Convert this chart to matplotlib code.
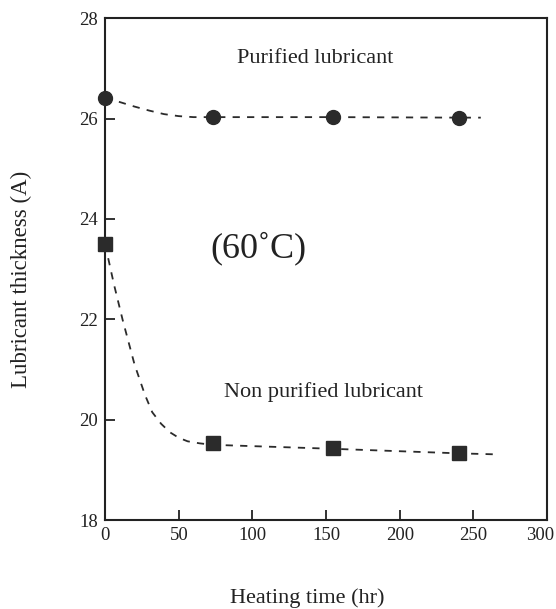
import matplotlib.pyplot as plt
import matplotlib.transforms as mtransforms

plt.rcParams['font.family'] = ['Liberation Serif', 'DejaVu Serif']

# measured points
time_pts = [0, 73, 155, 240]
purified = [26.42, 26.03, 26.03, 26.02]
non_purified = [23.5, 19.53, 19.43, 19.33]

# dashed guide curves
pur_curve_x = [0, 10, 20, 30, 40, 50, 60, 73, 155, 240, 255]
pur_curve_y = [26.42, 26.33, 26.24, 26.16, 26.09, 26.05, 26.03, 26.03, 26.03, 26.02, 26.02]
non_curve_x = [0, 6, 12, 20, 27, 32, 38, 44, 50, 56, 64, 73, 155, 240, 265]
non_curve_y = [23.5, 22.7, 21.98, 21.1, 20.5, 20.15, 19.92, 19.75, 19.64, 19.57, 19.53, 19.5, 19.42, 19.33, 19.31]

x_ticks = [0, 50, 100, 150, 200, 250, 300]
y_ticks = [18, 20, 22, 24, 26, 28]

fig = plt.figure(figsize=(5.56, 6.09), dpi=100)
ax = fig.add_axes([0.189, 0.146, 0.795, 0.824])

col = '#2b2b2b'
ax.plot(pur_curve_x, pur_curve_y, ls=(0, (4, 4)), color=col, lw=1.3, clip_on=False)
ax.plot(non_curve_x, non_curve_y, ls=(0, (4, 4)), color=col, lw=1.3, clip_on=False)
ax.plot(time_pts, purified, 'o', ms=10, color=col, clip_on=False, zorder=5)
ax.plot(time_pts, non_purified, 's', ms=9.5, color=col, clip_on=False, zorder=5)

ax.set_xlim(0, 300)
ax.set_ylim(18, 28)
ax.set_xticks(x_ticks)
ax.set_yticks(y_ticks)
ax.tick_params(direction='in', length=7, width=1.3, labelsize=13.5, colors='#222222', pad=5)
for s in ax.spines.values():
    s.set_linewidth(1.5)
    s.set_color('#222222')

# last x label sits at the page edge, nudge it in a bit
last = ax.get_xticklabels()[-1]
last.set_transform(last.get_transform() + mtransforms.ScaledTranslation(-0.07, 0, fig.dpi_scale_trans))

ax.text(142.5, 27.2, 'Purified lubricant', fontsize=16, ha='center', va='center', color='#222222')
ax.text(104, 23.42, '(60\u02daC)', fontsize=26, ha='center', va='center', color='#222222')
ax.text(148, 20.55, 'Non purified lubricant', fontsize=16, ha='center', va='center', color='#222222')

fig.text(0.552, 0.018, 'Heating time (hr)', fontsize=16, ha='center', va='center', color='#222222')
fig.text(0.038, 0.542, 'Lubricant thickness (A)', fontsize=16.5, ha='center', va='center',
         rotation=90, color='#222222')

fig.savefig('out.png', dpi=100)
